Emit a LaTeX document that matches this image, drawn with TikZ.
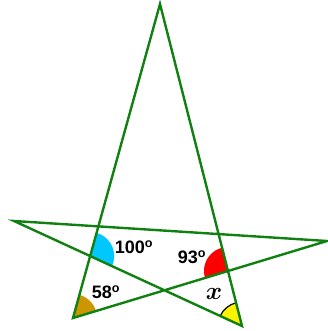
\documentclass[tikz,border=0pt]{standalone}
\usepackage{fontspec}
\setmainfont{Liberation Sans}
\usepackage{bm}
\usetikzlibrary{angles}
\definecolor{stargreen}{RGB}{16,128,16}
\definecolor{angleblue}{RGB}{0,200,255}
\definecolor{anglebrown}{RGB}{204,150,0}
\tikzset{
  starline/.style={stargreen, line width=2.4pt, line join=miter},
  anglefill/.style={angle radius=24pt},
  deglabel/.style={font=\fontsize{18}{20}\selectfont\bfseries, inner sep=0pt}
}
\begin{document}
\begin{tikzpicture}[x=1pt,y=1pt]
\useasboundingbox (0,0) rectangle (328,331);
% star vertices
\coordinate (T) at (160,327);
\coordinate (BL) at (73,13);
\coordinate (BR) at (242,5);
\coordinate (L) at (14,110);
\coordinate (R) at (327,90);
% crossings carrying the marked angles
\coordinate (P) at (intersection of T--BL and L--BR);
\coordinate (Q) at (intersection of T--BR and BL--R);
% angle sectors
\pic[anglefill, fill=angleblue] {angle=BR--P--T};
\pic[anglefill, fill=red] {angle=T--Q--BL};
\pic[anglefill, fill=anglebrown] {angle=R--BL--T};
\pic[anglefill, fill=yellow, draw=black, line width=1.2pt] {angle=T--BR--L};
% the star
\draw[starline] (T) -- (BL) -- (R) -- (L) -- (BR) -- cycle;
% labels
\node[deglabel] (a100) at (134,84) {100\textsuperscript{o}};
\node[deglabel] (a93) at (192,74) {93\textsuperscript{o}};
\node[deglabel] (a58) at (106,39) {58\textsuperscript{o}};
\node[inner sep=0pt, font=\fontsize{30}{32}\selectfont] (ax) at (214,37) {$\bm{x}$};
\end{tikzpicture}
\end{document}
